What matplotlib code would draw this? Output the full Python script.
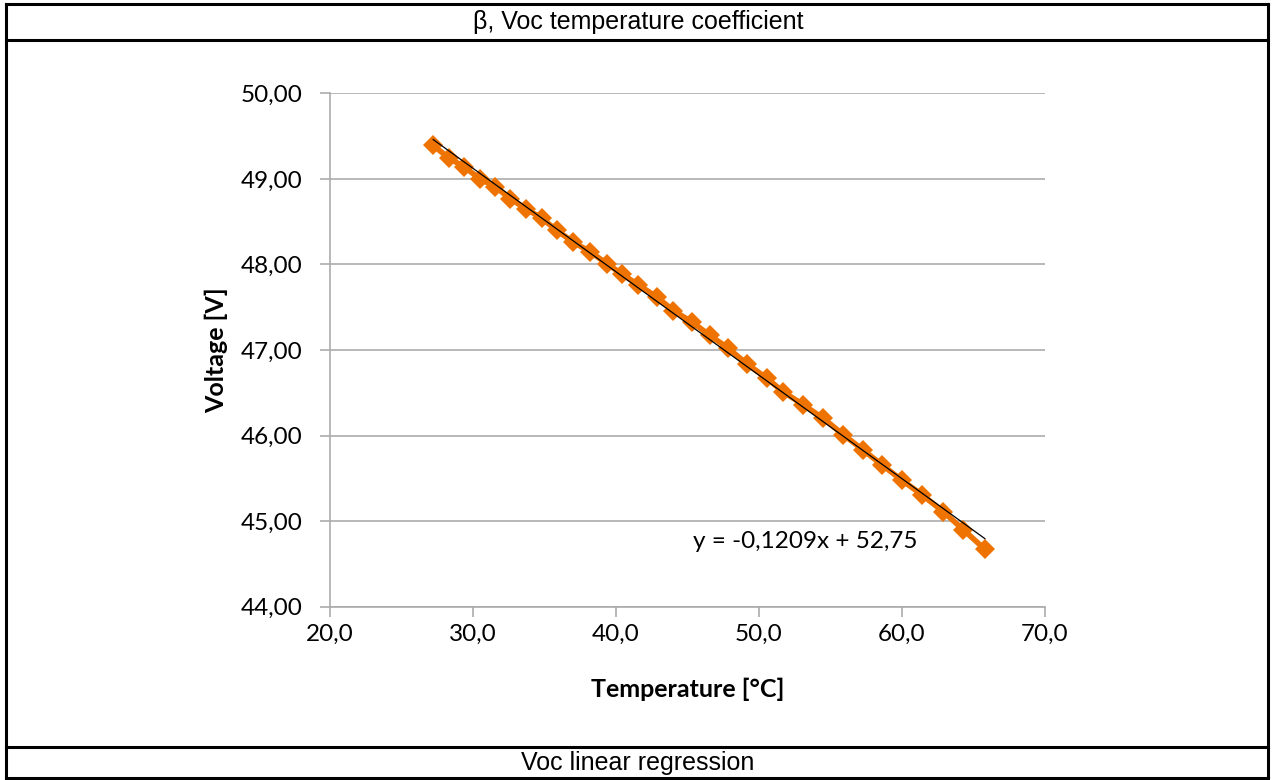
import numpy as np
import matplotlib.pyplot as plt
from matplotlib.lines import Line2D

# valores
temperatura = [27.22, 28.34, 29.39, 30.49, 31.54, 32.59, 33.71, 34.80, 35.85, 37.01,
               38.18, 39.35, 40.40, 41.56, 42.85, 44.01, 45.29, 46.57, 47.85, 49.14,
               50.54, 51.70, 53.10, 54.50, 55.90, 57.29, 58.58, 59.98, 61.38, 62.89,
               64.29, 65.80]
tensao = [49.39, 49.24, 49.14, 49.00, 48.91, 48.77, 48.65, 48.54, 48.40, 48.26,
          48.15, 48.01, 47.89, 47.76, 47.62, 47.46, 47.33, 47.17, 47.02, 46.84,
          46.67, 46.51, 46.36, 46.20, 46.01, 45.83, 45.66, 45.48, 45.31, 45.11,
          44.90, 44.67]
slope = -0.1209
intercept = 52.75

x_ticks = [20, 30, 40, 50, 60, 70]
y_ticks = [44, 45, 46, 47, 48, 49, 50]

W, H = 1273, 780
fig = plt.figure(figsize=(W / 100, H / 100), dpi=100)
ax = fig.add_axes([330 / W, 1 - 606.7 / H, 715 / W, (606.7 - 93.3) / H])

laranja = '#EF7300'
cinza = '#ABABAB'

# serie de dados
ax.plot(temperatura, tensao, color=laranja, lw=4, marker='D', markersize=10,
        markeredgewidth=0, zorder=3)
# reta de regressao
xr = np.array([temperatura[0], temperatura[-1]])
ax.plot(xr, slope * xr + intercept, color='black', lw=0.9, zorder=4)

fig.text(805 / W, 1 - 541 / H, 'y = -0,1209x + 52,75', fontsize=17.5,
         family='Lato', ha='center', va='center')

ax.set_xlim(20, 70)
ax.set_ylim(44, 50)
ax.set_xticks(x_ticks)
ax.set_yticks(y_ticks)
ax.set_xticklabels([f'{v:.1f}'.replace('.', ',') for v in x_ticks], family='Lato', fontsize=17.5)
ax.set_yticklabels([f'{v:.2f}'.replace('.', ',') for v in y_ticks], family='Lato', fontsize=17.5)
ax.tick_params(axis='x', length=7, color=cinza, width=1.2, pad=5)
ax.tick_params(axis='y', length=7, color=cinza, width=1.2, pad=13)
ax.grid(axis='y', color=cinza, lw=1.2)
ax.set_axisbelow(True)
for s in ['top', 'right']:
    ax.spines[s].set_visible(False)
for s in ['left', 'bottom']:
    ax.spines[s].set_color(cinza)
    ax.spines[s].set_linewidth(1.2)

fig.text(688 / W, 1 - 689 / H, 'Temperature [°C]', family='Lato', fontweight='bold',
         fontsize=18, ha='center', va='center')
fig.text(216 / W, 1 - 350 / H, 'Voltage [V]', family='Lato', fontweight='bold',
         fontsize=18, ha='center', va='center', rotation=90)

# moldura tipo tabela
def linha(x0, y0, x1, y1):
    fig.add_artist(Line2D([x0 / W, x1 / W], [1 - y0 / H, 1 - y1 / H], color='black',
                          lw=2.2, transform=fig.transFigure))

linha(6, 4, 1268, 4)
linha(6, 40, 1268, 40)
linha(6, 747, 1268, 747)
linha(6, 778, 1268, 778)
linha(6, 4, 6, 778)
linha(1268, 4, 1268, 778)

fig.text(638 / W, 1 - 22 / H, 'β, Voc temperature coefficient', family='Liberation Sans',
         fontsize=18, ha='center', va='center')
fig.text(638 / W, 1 - 763 / H, 'Voc linear regression', family='Liberation Sans',
         fontsize=18, ha='center', va='center')

fig.savefig('out.png', dpi=100)
